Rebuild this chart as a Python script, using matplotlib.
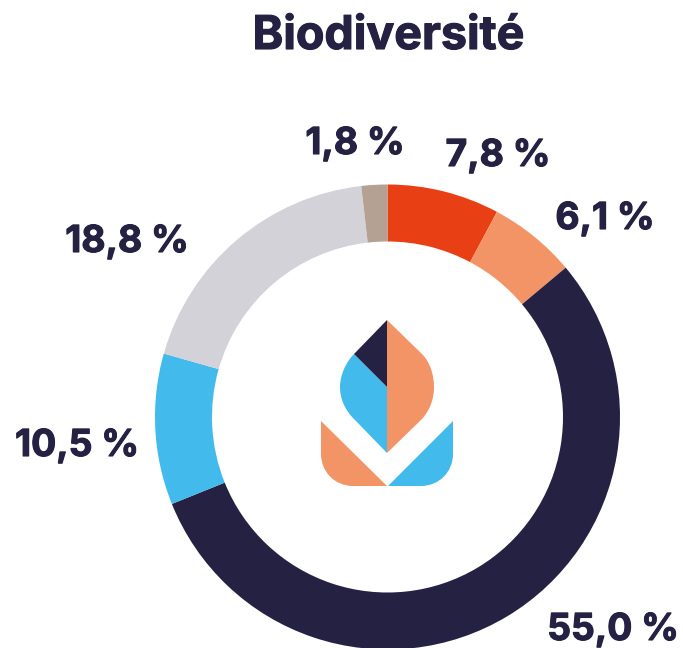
import matplotlib
matplotlib.use("Agg")
import matplotlib.pyplot as plt
import matplotlib.patheffects as pe
from matplotlib.patches import Polygon, PathPatch
from matplotlib.path import Path

title = "Biodiversité"
values = [7.8, 6.1, 55.0, 10.5, 18.8, 1.8]
labels = ["7,8 %", "6,1 %", "55,0 %", "10,5 %", "18,8 %", "1,8 %"]
colors = ["#E93F14", "#F39467", "#252142", "#43BAEC", "#D3D2D9", "#B5A193"]
navy = "#252142"

W, H = 683, 648
plt.rcParams["font.family"] = ["Inter", "DejaVu Sans"]
fig = plt.figure(figsize=(W / 100, H / 100), dpi=100, facecolor="white")

# Donut axes: centre (387.5, 417) px, outer radius 232.5 px
R = 232.5
ax = fig.add_axes([(387.5 - R) / W, 1 - (417 + R) / H, 2 * R / W, 2 * R / H])
ax.pie(values, colors=colors, startangle=90, counterclock=False, radius=1,
       wedgeprops=dict(width=57 / R, linewidth=0))
ax.set_xlim(-1, 1)
ax.set_ylim(-1, 1)
ax.set_aspect("equal")
ax.axis("off")

# Overlay axes in pixel coordinates
ov = fig.add_axes([0, 0, 1, 1])
ov.set_xlim(0, W)
ov.set_ylim(H, 0)
ov.axis("off")

heavy = [pe.withStroke(linewidth=0.8, foreground=navy)]
ov.text(388.5, 37, title, ha="center", va="center", fontsize=33.5,
        fontweight="bold", color=navy, path_effects=heavy)
pos = [(498, 156), (605, 219), (613, 630), (77, 446), (127, 242), (355, 144)]
for (x, y), t in zip(pos, labels):
    ov.text(x, y, t, ha="center", va="center", fontsize=26.8,
            fontweight="bold", color=navy, path_effects=heavy)

M, L, C4, Cv = Path.MOVETO, Path.LINETO, Path.CURVE4, Path.CLOSEPOLY
def shape(points, codes, color):
    ov.add_patch(PathPatch(Path(points, codes), fc=color, ec="none", lw=0))

# Right half of upper leaf
shape([(387, 320), (422, 354), (430, 362), (434, 375), (434, 387),
       (434, 399), (430, 410), (422, 419), (387, 453), (387, 320)],
      [M, L, C4, C4, C4, C4, C4, C4, L, Cv], "#F39467")
# Left blue part
shape([(387, 387), (354, 354), (346, 362), (340, 375), (340, 387),
       (340, 399), (345, 410), (354, 419), (387, 453), (387, 387)],
      [M, L, C4, C4, C4, C4, C4, C4, L, Cv], "#43BAEC")
# Navy tip
ov.add_patch(Polygon([(387, 320), (387, 387), (354, 354)], fc=navy, ec="none", lw=0))
# Lower left
shape([(321, 421), (387, 486), (353, 486), (335, 486), (321, 472), (321, 454), (321, 421)],
      [M, L, L, C4, C4, C4, Cv], "#F39467")
# Lower right
shape([(453, 421), (388, 486), (421, 486), (439, 486), (453, 472), (453, 454), (453, 421)],
      [M, L, L, C4, C4, C4, Cv], "#43BAEC")

fig.savefig("out.png", dpi=100, facecolor="white")
